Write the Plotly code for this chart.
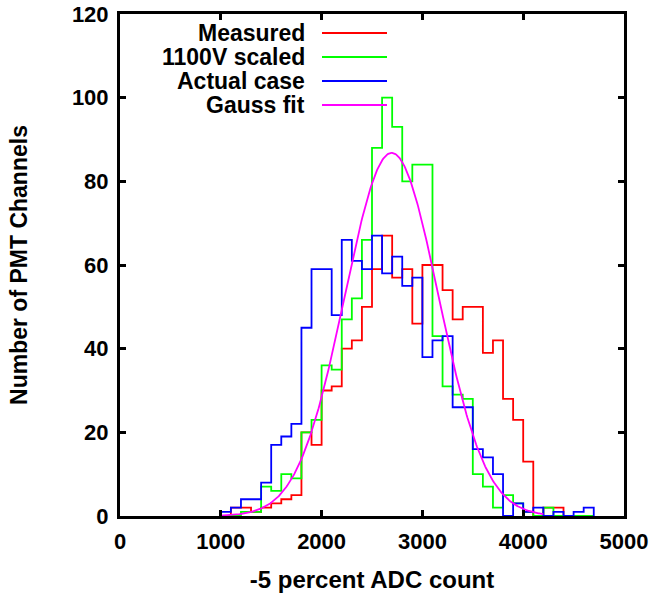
import plotly.graph_objects as go
import math

# ---------------- data ----------------
bin_start = [1000, 1100, 1200, 1300, 1400, 1500, 1600, 1700, 1800, 1900,
             2000, 2100, 2200, 2300, 2400, 2500, 2600, 2700, 2800, 2900,
             3000, 3100, 3200, 3300, 3400, 3500, 3600, 3700, 3800, 3900,
             4000, 4100, 4200, 4300, 4400, 4500, 4600]
bin_width = 100

measured = [0, 2, 2, 1, 2, 3, 4, 5, 20, 17,
            30, 31, 40, 42, 50, 59, 67, 57, 59, 46,
            60, 60, 54, 47, 50, 50, 39, 42, 28, 23,
            13, 0, 2, 2, 0, 0, 0]
scaled_1100v = [0, 0, 1, 1, 7, 6, 10, 9, 20, 23,
                36, 35, 47, 52, 66, 88, 100, 93, 80, 84,
                84, 43, 31, 29, 28, 10, 7, 2, 5, 3,
                1, 0, 2, 0, 0, 0, 0]
actual_case = [1, 2, 4, 4, 8, 17, 19, 22, 45, 59,
               59, 48, 66, 61, 59, 67, 58, 62, 55, 57,
               38, 42, 43, 26, 26, 16, 14, 10, 0, 3,
               1, 2, 0, 1, 0, 1, 2]

# Gauss fit parameters
gauss_amp = 86.8
gauss_mean = 2695
gauss_sigma = 465
gauss_xmin, gauss_xmax = 1000, 4200

series_names = ["Measured", "1100V scaled", "Actual case", "Gauss fit"]
series_colors = ["#ff0000", "#00ff00", "#0000ff", "#ff00ff"]

x_ticks = [0, 1000, 2000, 3000, 4000, 5000]
y_ticks = [0, 20, 40, 60, 80, 100, 120]
x_title = "-5 percent ADC count"
y_title = "Number of PMT Channels"

# ---------------- figure ----------------
W, H = 654, 595
ML, MR, MT, MB = 120, 30, 14, 79
PW, PH = W - ML - MR, H - MT - MB
FONT = "Liberation Sans, Arial, Helvetica, sans-serif"
FS_TICK = 22
FS_TEXT = 24
FS_KEY = 23


def step_xy(counts):
    xs = [bin_start[0]]
    ys = [0]
    for s, c in zip(bin_start, counts):
        xs.append(s)
        ys.append(c)
    end = bin_start[-1] + bin_width
    xs += [end, end]
    ys += [counts[-1], 0]
    return xs, ys


fig = go.Figure()
for name, counts, col in zip(series_names[:3], [measured, scaled_1100v, actual_case], series_colors[:3]):
    xs, ys = step_xy(counts)
    fig.add_trace(go.Scatter(x=xs, y=ys, mode="lines", name=name,
                             line=dict(color=col, width=1.8, shape="hv"),
                             showlegend=False, hoverinfo="skip"))

n = 400
gx = [gauss_xmin + (gauss_xmax - gauss_xmin) * i / (n - 1) for i in range(n)]
gy = [gauss_amp * math.exp(-((v - gauss_mean) ** 2) / (2 * gauss_sigma ** 2)) for v in gx]
fig.add_trace(go.Scatter(x=gx, y=gy, mode="lines", name=series_names[3],
                         line=dict(color=series_colors[3], width=1.8),
                         showlegend=False, hoverinfo="skip"))


def px_to_paper(px, py):
    return (px - ML) / PW, 1 - (py - MT) / PH


# manual gnuplot-style key: right-aligned text, line sample on the right
key_rows_y = [33, 57, 81, 105]
for name, col, ry in zip(series_names, series_colors, key_rows_y):
    tx, ty = px_to_paper(306, ry)
    fig.add_annotation(x=tx, y=ty, xref="paper", yref="paper", text=name,
                       showarrow=False, xanchor="right", yanchor="middle",
                       borderpad=0,
                       font=dict(family=FONT, size=FS_KEY, color="black", weight="bold"))
    x0, y0 = px_to_paper(322, ry)
    x1, _ = px_to_paper(387, ry)
    fig.add_shape(type="line", xref="paper", yref="paper", x0=x0, x1=x1, y0=y0, y1=y0,
                  line=dict(color=col, width=1.8))

axis_common = dict(showline=True, linecolor="black", linewidth=3, mirror="ticks",
                   ticks="inside", ticklen=6, tickwidth=2.5, tickcolor="black",
                   showgrid=False, zeroline=False,
                   tickfont=dict(family=FONT, size=FS_TICK, color="black", weight="bold"))

fig.update_xaxes(range=[0, 5000], tickvals=x_ticks, ticktext=[str(v) for v in x_ticks],
                 ticklabelstandoff=4,
                 title=dict(text=x_title, standoff=18,
                            font=dict(family=FONT, size=FS_TEXT, color="black", weight="bold")),
                 **axis_common)
fig.update_yaxes(range=[0, 120], tickvals=y_ticks, ticktext=[str(v) for v in y_ticks],
                 ticklabelstandoff=4,
                 title=dict(text=y_title, standoff=38,
                            font=dict(family=FONT, size=23, color="black", weight="bold")),
                 **axis_common)

fig.update_layout(width=W, height=H, margin=dict(l=ML, r=MR, t=MT, b=MB, autoexpand=False),
                  plot_bgcolor="white", paper_bgcolor="white")

fig.write_html("out.html")
